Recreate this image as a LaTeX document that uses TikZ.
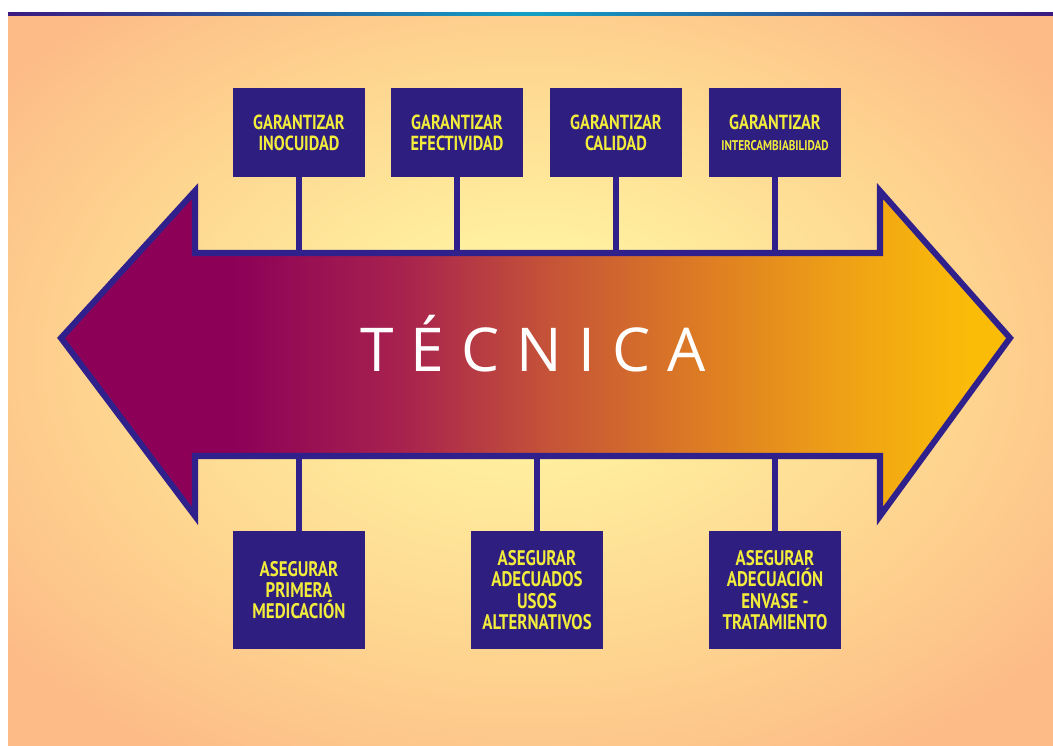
\documentclass[tikz,border=0pt]{standalone}
\usepackage{fontspec}
\setmainfont{Open Sans}
\newfontfamily\cajafont[FakeStretch=0.8]{PT Sans}
\newfontfamily\titulofont[LetterSpace=28]{Open Sans}

\definecolor{azulCaja}{RGB}{46,30,128}
\definecolor{azulBorde}{RGB}{48,32,140}
\definecolor{amarilloTexto}{RGB}{242,236,60}
\definecolor{lineaMorado}{RGB}{60,26,128}
\definecolor{lineaTeal}{RGB}{20,160,195}
\definecolor{fondoClaro}{RGB}{255,242,160}
\definecolor{fondoMedio}{RGB}{254,214,144}
\definecolor{fondoBorde}{RGB}{253,187,135}
\definecolor{fPurpura}{RGB}{140,0,88}
\definecolor{fCarmin}{RGB}{168,34,78}
\definecolor{fOxido}{RGB}{198,85,55}
\definecolor{fNaranja}{RGB}{222,125,35}
\definecolor{fAmbar}{RGB}{238,160,22}
\definecolor{fAmarillo}{RGB}{251,188,8}

\pgfdeclarehorizontalshading{flecha}{100bp}{color(0bp)=(fPurpura); color(34bp)=(fPurpura);
  color(43bp)=(fCarmin); color(51bp)=(fOxido); color(59bp)=(fNaranja);
  color(66bp)=(fAmbar); color(73bp)=(fAmarillo); color(100bp)=(fAmarillo)}
\pgfdeclareradialshading{fondo}{\pgfpoint{0bp}{3bp}}{color(0bp)=(fondoClaro); color(6bp)=(fondoClaro);
  color(20bp)=(fondoMedio); color(32bp)=(fondoBorde); color(50bp)=(fondoBorde)}

\begin{document}
\begin{tikzpicture}[
        x=0.025cm, y=-0.025cm,
        caja/.style={rectangle, fill=azulCaja, text=amarilloTexto, align=center,
            inner sep=0pt, minimum width=3.3cm},
        arriba/.style={caja, minimum height=2.225cm,
            font=\cajafont\bfseries\fontsize{14.5}{15}\selectfont},
        abajo/.style={caja, minimum height=2.95cm,
            font=\cajafont\bfseries\fontsize{15}{15.2}\selectfont},
        poste/.style={draw=azulBorde, line width=3.8pt}
    ]
        \useasboundingbox (0,0) rectangle (1053,745);

        % fondo
        \fill[white] (0,0) rectangle (1053,745);
        \shade[shading=fondo] (8,15) rectangle (1053,745);
        \shade[left color=lineaMorado, right color=lineaMorado, middle color=lineaTeal]
            (8,12) rectangle (1053,15.5);

        % flecha doble
        \shadedraw[shading=flecha, draw=azulBorde, line width=4.3pt, line join=miter]
            (61,338) -- (195,191) -- (195,253) -- (880,253) -- (880,191) -- (1010,338)
            -- (880,516) -- (880,456) -- (195,456) -- (195,516) -- cycle;
        \coordinate (sup) at (0,253);
        \coordinate (inf) at (0,456);

        \node[anchor=base, text=white, font=\titulofont\fontsize{43}{43}\selectfont]
            (titulo) at (533,371) {TÉCNICA};

        % cajas de arriba
        \node[arriba] (g1) at (299,132.5) {GARANTIZAR\\INOCUIDAD};
        \node[arriba] (g2) at (457,132.5) {GARANTIZAR\\EFECTIVIDAD};
        \node[arriba] (g3) at (616,132.5) {GARANTIZAR\\CALIDAD};
        \node[arriba] (g4) at (775,132.5) {GARANTIZAR\\{\fontsize{10}{10}\selectfont INTERCAMBIABILIDAD}};

        % cajas de abajo
        \node[abajo] (a1) at (299,590) {ASEGURAR\\PRIMERA\\MEDICACIÓN};
        \node[abajo] (a2) at (537,590) {ASEGURAR\\ADECUADOS\\USOS\\ALTERNATIVOS};
        \node[abajo] (a3) at (775,590) {ASEGURAR\\ADECUACIÓN\\ENVASE -\\TRATAMIENTO};

        \foreach \n in {g1,g2,g3,g4}{
            \draw[poste] (\n.south) -- (\n.south |- sup);
        }
        \foreach \n in {a1,a2,a3}{
            \draw[poste] (\n.north) -- (\n.north |- inf);
        }
    \end{tikzpicture}
\end{document}
